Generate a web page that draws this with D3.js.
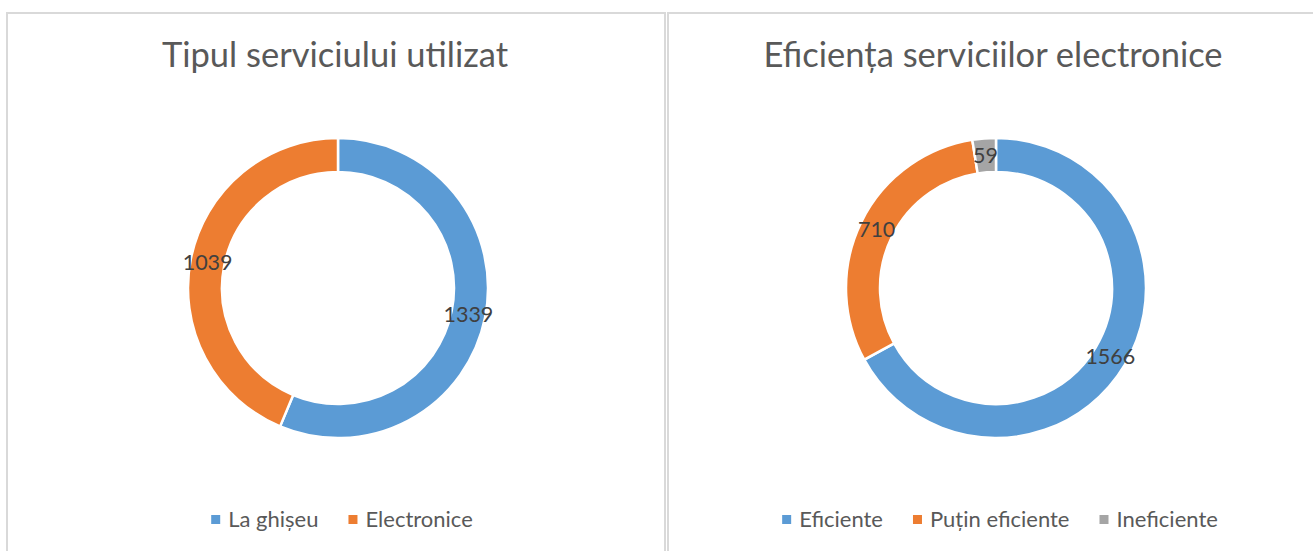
<!DOCTYPE html>
<html>
<head>
<meta charset="utf-8">
<script src="https://cdn.jsdelivr.net/npm/d3@7"></script>
<style>
  body { margin: 0; background: #fff; }
  svg { display: block; font-family: Lato, "Open Sans", sans-serif; }
</style>
</head>
<body>
<svg id="chart"></svg>
<script>
// chart data
var titles = ["Tipul serviciului utilizat", "Eficiența serviciilor electronice"];
var categories1 = ["La ghișeu", "Electronice"];
var values1 = [1339, 1039];
var categories2 = ["Eficiente", "Puțin eficiente", "Ineficiente"];
var values2 = [1566, 710, 59];
var colors = ["#5B9BD5", "#ED7D31", "#A5A5A5"];

var W = 1313, H = 551;
var svg = d3.select("#chart").attr("width", W).attr("height", H);

// panel frames
var panels = [
  {x: 7, y: 13, w: 658, cx: 338, cats: categories1, vals: values1, title: titles[0]},
  {x: 668, y: 13, w: 660, cx: 996, cats: categories2, vals: values2, title: titles[1]}
];

var color = d3.scaleOrdinal().range(colors);
var outerR = 150, innerR = 116, cy = 288;

panels.forEach(function(p) {
  svg.append("rect")
    .attr("x", p.x).attr("y", p.y)
    .attr("width", p.w).attr("height", H + 20)
    .attr("fill", "none")
    .attr("stroke", "#d9d9d9")
    .attr("stroke-width", 2);

  svg.append("text")
    .attr("x", p.cx - 3).attr("y", 67)
    .attr("text-anchor", "middle")
    .attr("font-size", 34.5)
    .attr("fill", "#595959")
    .text(p.title);

  var data = p.cats.map(function(c, i) { return {cat: c, val: p.vals[i]}; });
  color.domain(p.cats);

  var pie = d3.pie().sort(null).value(function(d) { return d.val; });
  var arc = d3.arc().innerRadius(innerR).outerRadius(outerR);
  var labelArc = d3.arc().innerRadius(133).outerRadius(133);

  var g = svg.append("g").attr("transform", "translate(" + p.cx + "," + cy + ")");
  var arcs = pie(data);

  g.selectAll("path")
    .data(arcs)
    .enter()
    .append("path")
      .attr("d", arc)
      .attr("fill", function(d) { return color(d.data.cat); })
      .attr("stroke", "#fff")
      .attr("stroke-width", 2.5);

  g.selectAll("text")
    .data(arcs)
    .enter()
    .append("text")
      .attr("transform", function(d) { return "translate(" + labelArc.centroid(d) + ")"; })
      .attr("text-anchor", "middle")
      .attr("dy", "0.36em")
      .attr("font-size", 21.5)
      .attr("fill", "#404040")
      .text(function(d) { return d.data.val; });

  // legend, centred under the panel
  var lg = svg.append("g");
  var x = 0, gap = 30;
  p.cats.forEach(function(c, i) {
    lg.append("rect")
      .attr("x", x).attr("y", 515)
      .attr("width", 9).attr("height", 9)
      .attr("fill", color(c));
    var t = lg.append("text")
      .attr("x", x + 17).attr("y", 527)
      .attr("font-size", 22)
      .attr("fill", "#595959")
      .text(c);
    x += 17 + t.node().getComputedTextLength() + gap;
  });
  var lw = x - gap;
  lg.attr("transform", "translate(" + (p.cx + 4 - lw / 2) + ",0)");
});
</script>
</body>
</html>
